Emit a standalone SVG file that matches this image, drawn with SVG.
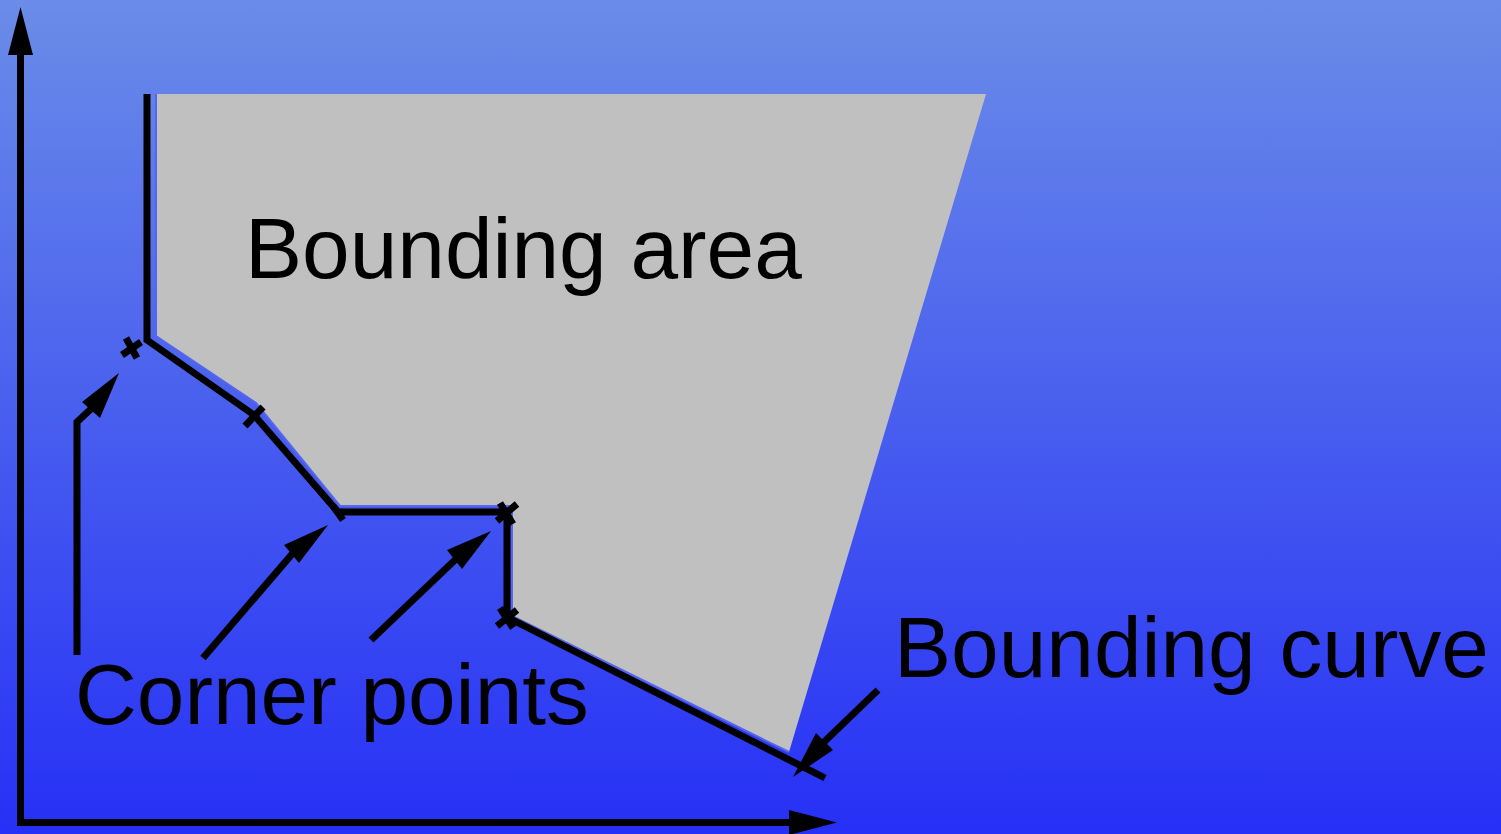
<svg xmlns="http://www.w3.org/2000/svg" width="1501" height="834" viewBox="0 0 1501 834">
<defs>
<linearGradient id="bg" x1="0" y1="0" x2="0" y2="1">
<stop offset="0" stop-color="#6b8ce8"/>
<stop offset="1" stop-color="#2630f6"/>
</linearGradient>
</defs>
<style>
.ln{fill:none;stroke:#000;stroke-width:7}
.hd{fill:#000;stroke:none}
.tx{font-family:"Liberation Sans",Arial,sans-serif;font-size:85.6px;fill:#000}
</style>
<rect x="0" y="0" width="1501" height="834" fill="url(#bg)"/>
<g id="area">
<polygon points="156,94 986,94 789,752 512,616 512,506 340,506 256,403 156,336" fill="#c0c0c0"/>
<polyline points="156,94 156,336 256,403 340,506 512,506 512,616 789,752" fill="none" stroke="#5566ee" stroke-width="2"/>
</g>
<g id="axes">
<line class="ln" x1="20.5" y1="826" x2="20.5" y2="52"/>
<polygon class="hd" points="20.5,7 8,55 33,55"/>
<line class="ln" x1="17" y1="822.5" x2="792" y2="822.5"/>
<polygon class="hd" points="837,822.5 789,810 789,835"/>
</g>
<g id="curve">
<polyline class="ln" points="147,94 147,340 254,415 338,512 507,512 507,617 825,778"/>
<path class="ln" d="M126,338 L137,358 M122,355 L141,342"/>
<path class="ln" d="M245,426 L263,407"/>
<path class="ln" d="M333,506 L343,520"/>
<path class="ln" d="M500,503 L513,524 M497,521 L517,504"/>
<path class="ln" d="M500,608 L513,628 M497,626 L517,610"/>
</g>
<g id="connectors">
<polyline class="ln" points="77,655 77,422 92,408"/>
<polygon class="hd" points="119,373 82,402 100,418"/>
<line class="ln" x1="203" y1="658" x2="293" y2="553"/>
<polygon class="hd" points="328,525 284,545 299,563"/>
<line class="ln" x1="371" y1="640" x2="456" y2="559"/>
<polygon class="hd" points="491,531 447,550 462,569"/>
<line class="ln" x1="878" y1="690" x2="823" y2="743"/>
<polygon class="hd" points="793,777 816,733 833,750"/>
</g>
<g id="labels">
<text class="tx" x="245" y="278">Bounding area</text>
<text class="tx" x="894" y="677">Bounding curve</text>
<text class="tx" x="75" y="724">Corner points</text>
</g>
</svg>
